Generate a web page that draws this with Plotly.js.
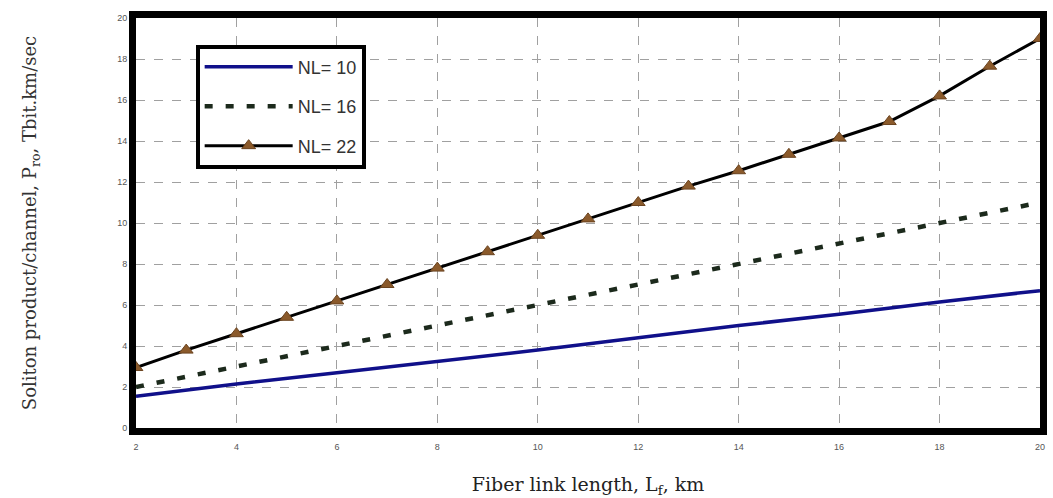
<!DOCTYPE html>
<html>
<head>
<meta charset="utf-8">
<script src="https://cdn.plot.ly/plotly-3.0.1.min.js"></script>
<style>html,body{margin:0;padding:0;background:#fff;}#chart{width:1053px;height:498px;}</style>
</head>
<body>
<div id="chart"></div>
<script>
// Data
const seriesNames = ["NL= 10", "NL= 16", "NL= 22"];
const xEven = [2, 4, 6, 8, 10, 12, 14, 16, 18, 20];
const nl10 = [1.55, 2.15, 2.7, 3.25, 3.8, 4.4, 5.0, 5.55, 6.15, 6.7];
const nl16 = [2.0, 3.0, 4.0, 5.0, 6.0, 7.0, 8.0, 9.0, 10.0, 11.0];
const xAll = [2, 3, 4, 5, 6, 7, 8, 9, 10, 11, 12, 13, 14, 15, 16, 17, 18, 19, 20];
const nl22 = [2.95, 3.8, 4.6, 5.4, 6.2, 7.0, 7.8, 8.6, 9.4, 10.2, 11.0, 11.8, 12.55, 13.35, 14.15, 14.95, 16.2, 17.65, 19.0];
const xTicks = [2, 4, 6, 8, 10, 12, 14, 16, 18, 20];
const yTicks = [0, 2, 4, 6, 8, 10, 12, 14, 16, 18, 20];

const traces = [
  {x: xEven, y: nl10, name: seriesNames[0], mode: "lines", legendgroup: "a",
   line: {color: "#10108a", width: 3.5}},
  {x: xEven, y: nl16, name: seriesNames[1], mode: "lines", legendgroup: "b",
   line: {color: "#1c2a1c", width: 4.5, dash: "8px,13px"}},
  {x: xAll, y: nl22, name: seriesNames[2], mode: "lines+markers", legendgroup: "c",
   line: {color: "#000000", width: 3},
   marker: {symbol: "triangle-up", size: 12, color: "#8b5a2b", line: {color: "#6b4420", width: 1}}}
];

const layout = {
  width: 1053, height: 498,
  margin: {l: 136, r: 13, t: 18, b: 70},
  paper_bgcolor: "#ffffff", plot_bgcolor: "#ffffff",
  showlegend: true,
  legend: {x: 0.066, y: 0.935, xanchor: "left", yanchor: "top",
    bgcolor: "#ffffff", bordercolor: "#000000", borderwidth: 4,
    font: {family: "Liberation Sans, Arial, sans-serif", size: 18, color: "#333"},
    traceorder: "grouped", tracegroupgap: 13, itemwidth: 88},
  xaxis: {range: [2, 20], tickvals: xTicks, ticktext: xTicks.map(String),
    showgrid: true, gridcolor: "#a0a0a0", griddash: "dash", gridwidth: 1,
    showline: true, linecolor: "#000", linewidth: 7, mirror: true,
    ticks: "", zeroline: false, ticklabelstandoff: 4,
    tickfont: {family: "Liberation Sans, Arial, sans-serif", size: 9, color: "#555"},
    title: {text: "Fiber link length, L<sub>f</sub>, km", standoff: 30,
      font: {family: "DejaVu Serif, Georgia, serif", size: 19, color: "#222"}}},
  yaxis: {range: [0, 20], tickvals: yTicks, ticktext: yTicks.map(String),
    showgrid: true, gridcolor: "#a0a0a0", griddash: "dash", gridwidth: 1,
    showline: true, linecolor: "#000", linewidth: 7, mirror: true,
    ticks: "", zeroline: false,
    tickfont: {family: "Liberation Sans, Arial, sans-serif", size: 9, color: "#555"},
    title: {text: "Soliton product/channel, P<sub>ro</sub>, Tbit.km/sec", standoff: 78,
      font: {family: "DejaVu Serif, Georgia, serif", size: 18, color: "#333"}}}
};

Plotly.newPlot("chart", traces, layout, {displayModeBar: false, staticPlot: true});
</script>
</body>
</html>
